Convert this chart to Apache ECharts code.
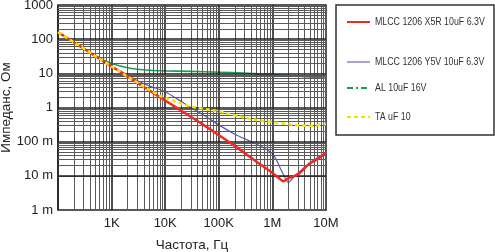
<!DOCTYPE html>
<html><head><meta charset="utf-8">
<script src="https://cdn.jsdelivr.net/npm/echarts@6/dist/echarts.min.js"></script>
<style>html,body{margin:0;padding:0;background:#fff}#c{width:495px;height:252px}</style>
</head><body><div id="c"></div>
<script>
// ---- data ----
const seriesNames = ['MLCC 1206 X5R 10uF 6.3V', 'MLCC 1206 Y5V 10uF 6.3V', 'AL 10uF 16V', 'TA uF 10'];

const freqX5R = [100, 200, 500, 1e3, 2e3, 5e3, 1e4, 2e4, 5e4, 1e5, 2e5, 4e5, 7e5, 1e6, 1.3e6, 1.6e6, 2e6, 3e6, 4e6, 5e6, 7e6, 1e7];
const zX5R    = [159, 80, 32, 15.9, 8, 3.2, 1.6, 0.8, 0.32, 0.155, 0.074, 0.034, 0.018, 0.0122, 0.0088, 0.007, 0.0085, 0.011, 0.017, 0.023, 0.031, 0.048];

const freqY5V = [100, 300, 700, 1e3, 2e3, 3e3, 5e3, 1e4, 2e4, 3e4, 5e4, 1e5, 2e5, 5e5, 1e6, 1.2e6, 1.5e6, 2e6, 2.5e6, 3e6, 5e6, 1e7];
const zY5V    = [159, 53, 23, 16.5, 8.8, 6.2, 4.3, 2.9, 1.5, 1.0, 0.62, 0.31, 0.165, 0.085, 0.045, 0.028, 0.0135, 0.0063, 0.0093, 0.012, 0.024, 0.048];

const freqAL = [100, 200, 500, 750, 1e3, 2e3, 3e3, 5e3, 1e4, 3e4, 1e5, 3e5, 6e5, 1e6, 2.4e6, 5e6, 1e7];
const zAL    = [159, 80, 33, 23.5, 19.5, 14.5, 13.2, 12.3, 11.8, 11.4, 10.8, 10.2, 9.6, 9.2, 8.4, 7.8, 7.2];

const freqTA = [100, 200, 500, 1e3, 2e3, 4e3, 8e3, 1.2e4, 1.9e4, 3.3e4, 7e4, 1.4e5, 2.8e5, 5.9e5, 1.2e6, 2.4e6, 5e6, 1e7];
const zTA    = [159, 80, 32, 16, 8, 4.1, 2.2, 1.75, 1.33, 1.03, 0.85, 0.68, 0.52, 0.41, 0.36, 0.31, 0.29, 0.33];

const xTickLabels = ['', '1K', '10K', '100K', '1M', '10M'];          // 1e2 .. 1e7
const yTickLabels = ['1 m', '10 m', '100 m', '1', '10', '100', '1000']; // 1e-3 .. 1e3

// ---- styles ----
const colors = ['#ee2a24', '#5a5ab0', '#1a9e55', '#f2e600'];
const legendColors = ['#ee2a24', '#a4a4d4', '#1a9e55', '#f2e600'];
const legendDash = ['solid', 'solid', [6, 3, 2, 3], [4, 3]];
const legendWidth = [2, 2, 2, 2];
const legendTops = [22, 62, 88, 117];

// ---- grid line values (log grid) ----
const gridX = [], gridY = [];
for (let k = 2; k < 7; k++) for (let m = 1; m <= 9; m++) gridX.push({v: m * Math.pow(10, k), major: m === 1});
for (let k = -3; k < 3; k++) for (let m = 1; m <= 9; m++) gridY.push({v: m * Math.pow(10, k), major: m === 1});

function pairs(f, z) { return f.map((v, i) => [v, z[i]]); }

const markData = [];
gridX.forEach(g => markData.push({xAxis: g.v, lineStyle: {color: g.major ? '#222' : '#5a5a5a', width: g.major ? 1.6 : 1, type: 'solid'}}));
gridY.forEach(g => markData.push({yAxis: g.v, lineStyle: {color: g.major ? '#222' : '#5a5a5a', width: g.major ? 1.6 : 1, type: 'solid'}}));

const font = 'Liberation Sans, Arial, sans-serif';
const chart = echarts.init(document.getElementById('c'), null, {renderer: 'canvas'});

const legendGraphics = [{type: 'rect', shape: {x: 336, y: 5, width: 158, height: 130}, style: {fill: '#fff', stroke: '#333', lineWidth: 1.5}, z: 100}];
seriesNames.forEach((n, i) => {
  legendGraphics.push({type: 'line', shape: {x1: 347, y1: legendTops[i], x2: 370, y2: legendTops[i]},
    style: {stroke: legendColors[i], lineWidth: legendWidth[i], lineDash: legendDash[i] === 'solid' ? null : legendDash[i]}, z: 101});
  legendGraphics.push({type: 'text', x: 375, y: legendTops[i], scaleX: 0.84,
    style: {text: n, fill: '#333', font: '10.5px Liberation Sans, Arial, sans-serif', textVerticalAlign: 'middle'}, z: 101});
});

chart.setOption({
  animation: false,
  backgroundColor: '#fff',
  grid: {left: 58, top: 5, width: 268, height: 205, show: true, borderColor: '#222', borderWidth: 1.5,
    backgroundColor: 'transparent', containLabel: false, outerBoundsMode: 'none'},
  graphic: legendGraphics,
  xAxis: {
    type: 'log', min: 100, max: 1e7, logBase: 10,
    name: 'Частота, Гц', nameLocation: 'middle', nameGap: 28, nameMoveOverlap: false,
    nameTextStyle: {fontFamily: font, fontSize: 13.5, color: '#222'},
    axisLine: {show: false}, axisTick: {show: false}, splitLine: {show: false},
    axisLabel: {margin: 7, fontFamily: font, fontSize: 13, color: '#222',
      formatter: v => xTickLabels[Math.round(Math.log10(v)) - 2] || ''}
  },
  yAxis: {
    type: 'log', min: 0.001, max: 1000, logBase: 10,
    name: 'Импеданс, Ом', nameLocation: 'middle', nameGap: 45, nameMoveOverlap: false,
    nameTextStyle: {fontFamily: font, fontSize: 13.5, color: '#222'},
    axisLine: {show: false}, axisTick: {show: false}, splitLine: {show: false},
    axisLabel: {margin: 5, fontFamily: font, fontSize: 13, color: '#222',
      formatter: v => yTickLabels[Math.round(Math.log10(v)) + 3] || ''}
  },
  series: [
    {type: 'line', name: '_grid', data: [], silent: true, z: 1,
      markLine: {silent: true, symbol: 'none', label: {show: false}, animation: false, data: markData}},
    {type: 'line', name: seriesNames[2], data: pairs(freqAL, zAL), showSymbol: false, symbol: 'none', smooth: 0.3, z: 3,
      lineStyle: {color: colors[2], width: 1.6}},
    {type: 'line', name: seriesNames[1], data: pairs(freqY5V, zY5V), showSymbol: false, symbol: 'none', smooth: 0.2, z: 4,
      lineStyle: {color: colors[1], width: 1.2}},
    {type: 'line', name: seriesNames[0], data: pairs(freqX5R, zX5R), showSymbol: false, symbol: 'none', smooth: 0.3, z: 5,
      lineStyle: {color: colors[0], width: 2.5}},
    {type: 'line', name: seriesNames[3], data: pairs(freqTA, zTA), showSymbol: false, symbol: 'none', smooth: 0.3, z: 6,
      lineStyle: {color: colors[3], width: 2.5, type: [4, 3]}}
  ]
});
</script></body></html>
